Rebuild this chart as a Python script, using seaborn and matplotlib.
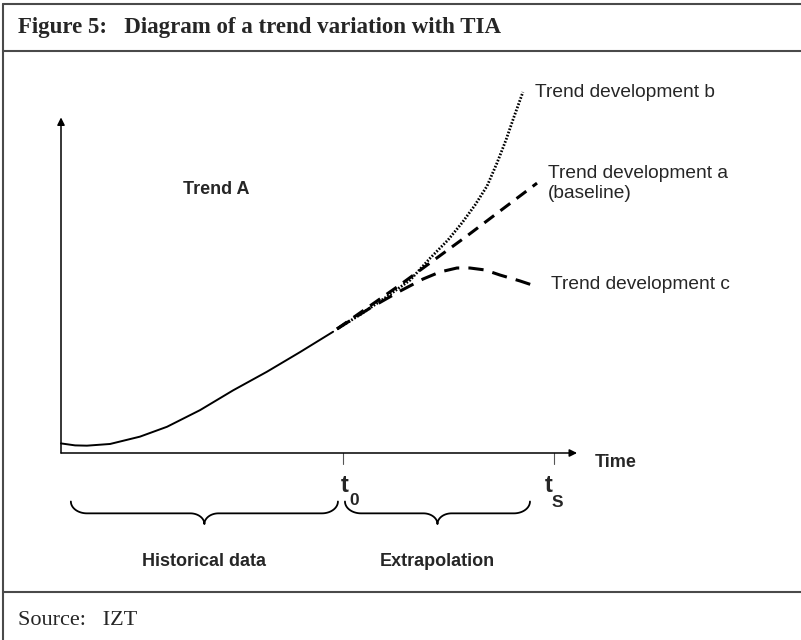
import numpy as np
import matplotlib
matplotlib.use("Agg")
import matplotlib.pyplot as plt
from matplotlib.lines import Line2D
import seaborn as sns

# values (time units: t0 = 10)
hist_t = [0, 0.50, 0.92, 1.74, 2.80, 3.76, 4.93, 6.10, 7.30, 8.48, 9.65]
hist_v = [0.34, 0.27, 0.26, 0.32, 0.58, 0.93, 1.52, 2.22, 2.88, 3.58, 4.30]

b_t = [9.79, 10.60, 11.49, 12.38, 13.09, 13.72, 14.22, 14.68, 15.11, 15.46, 15.78, 16.06, 16.38]
b_v = [4.40, 4.90, 5.50, 6.13, 6.91, 7.55, 8.16, 8.79, 9.47, 10.28, 11.10, 11.91, 12.80]

a_t = [9.79, 12.02, 14.40, 16.88]
a_v = [4.40, 5.96, 7.70, 9.57]

c_t = [9.79, 10.96, 12.02, 12.84, 13.44, 14.04, 14.50, 15.04, 15.57, 16.28, 16.91]
c_v = [4.40, 5.14, 5.74, 6.17, 6.42, 6.56, 6.56, 6.49, 6.31, 6.10, 5.89]

t0, ts = 10.0, 17.48
x_end, y_end = 18.3, 11.9
hist_span = (0.35, 9.82)
extrap_span = (10.07, 16.63)

# pixel layout of the data area
W, H = 801, 640
PX = 28.2            # pixels per unit
OX, OY = 61, 453     # origin in pixels
TOP, BOT = 51, 592   # header / source separators


def brace(x0, x1, ytop=-1.72, ymid=-2.14, ytip=-2.52, r_end=0.57, r_mid=0.5):
    xc = (x0 + x1) / 2
    th = np.linspace(0, np.pi / 2, 20)
    left_end = (x0 + r_end - r_end * np.cos(th), ytop - (ytop - ymid) * np.sin(th))
    mid_l = (xc - r_mid + r_mid * np.sin(th), ytip + (ymid - ytip) * np.cos(th))
    xs = np.concatenate([left_end[0], mid_l[0]])
    ys = np.concatenate([left_end[1], mid_l[1]])
    xs = np.concatenate([xs, (2 * xc - xs)[::-1]])
    ys = np.concatenate([ys, ys[::-1]])
    return xs, ys


sns.set_theme(style="white")
plt.rcParams["font.family"] = ["Liberation Sans", "DejaVu Sans"]

fig = plt.figure(figsize=(W / 100, H / 100), dpi=100)
ax = fig.add_axes([0, (H - BOT) / H, 1, (BOT - TOP) / H])
ax.set_xlim(-OX / PX, (W - OX) / PX)
ax.set_ylim((OY - BOT) / PX, (OY - TOP) / PX)
ax.axis("off")

# axes with arrows
arrow = dict(arrowstyle="-|>", color="black", lw=1.1, mutation_scale=11, shrinkA=0, shrinkB=0)
ax.annotate("", xy=(x_end, 0), xytext=(0, 0), arrowprops=arrow)
ax.annotate("", xy=(0, y_end), xytext=(0, 0), arrowprops=arrow)
for t in (t0, ts):
    ax.plot([t, t], [0, -0.4], color="#555555", lw=0.8)

# curves
sns.lineplot(x=hist_t, y=hist_v, ax=ax, color="black", lw=1.4)
sns.lineplot(x=b_t, y=b_v, ax=ax, color="black", lw=2.0, ls=(0, (0.6, 0.6)))
sns.lineplot(x=a_t, y=a_v, ax=ax, color="black", lw=2.2, ls=(0, (4, 2.6)))
sns.lineplot(x=c_t, y=c_v, ax=ax, color="black", lw=2.2, ls=(0, (5, 3)))

# braces
for x0, x1 in (hist_span, extrap_span):
    bx, by = brace(x0, x1)
    ax.plot(bx, by, color="black", lw=1.3)

# labels
ax.text(5.5, 9.36, "Trend A", ha="center", va="center", fontsize=13, fontweight="bold")
ax.text(16.81, 12.80, "Trend development b", ha="left", va="center", fontsize=13.8)
ax.text(17.27, 9.56, "Trend development a\n(baseline)", ha="left", va="center", fontsize=13.8)
ax.text(17.38, 5.96, "Trend development c", ha="left", va="center", fontsize=13.8)
ax.text(18.94, -0.32, "Time", ha="left", va="center", fontsize=13, fontweight="bold")

ax.text(9.93, -1.17, "t", ha="left", va="center", fontsize=17, fontweight="bold")
ax.text(10.22, -1.7, "0", ha="left", va="center", fontsize=12.5, fontweight="bold")
ax.text(17.16, -1.17, "t", ha="left", va="center", fontsize=17, fontweight="bold")
ax.text(17.4, -1.74, "S", ha="left", va="center", fontsize=12.5, fontweight="bold")

ax.text(sum(hist_span) / 2, -3.83, "Historical data", ha="center", va="center",
        fontsize=13, fontweight="bold")
ax.text(sum(extrap_span) / 2, -3.83, "Extrapolation", ha="center", va="center",
        fontsize=13, fontweight="bold")

# frame
frame = "#4a4a4a"
for y in (4, TOP, BOT):
    fig.add_artist(Line2D([3 / W, 1], [1 - y / H, 1 - y / H], color=frame, lw=1.5))
fig.add_artist(Line2D([3 / W, 3 / W], [0, 1 - 4 / H], color=frame, lw=1.5))

fig.text(18 / W, 1 - 33 / H, "Figure 5:   Diagram of a trend variation with TIA",
         family="Liberation Serif", fontweight="bold", fontsize=16.5, va="baseline")
fig.text(18 / W, 1 - 625 / H, "Source:   IZT", family="Liberation Serif",
         fontsize=16, va="baseline")

fig.savefig("out.png", dpi=100)
